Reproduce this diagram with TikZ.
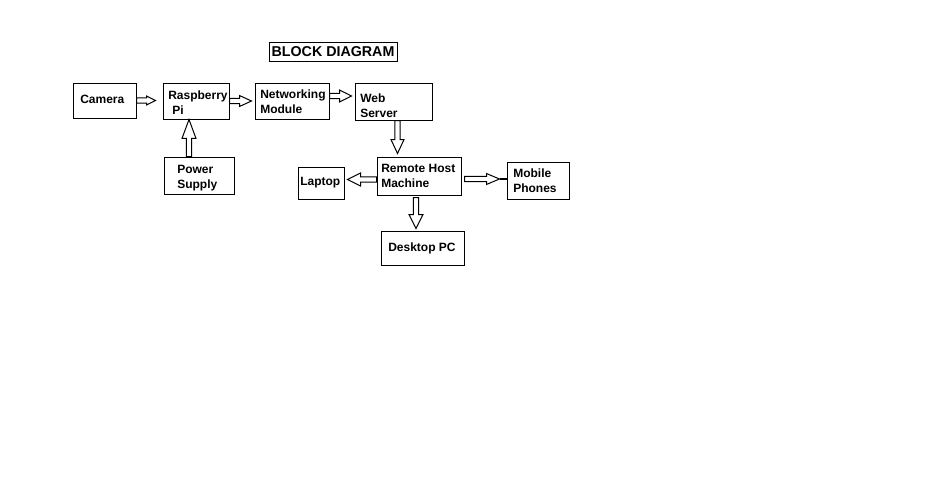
\documentclass[tikz,border=0pt]{standalone}
\usepackage{fontspec}
\setmainfont{Liberation Sans}
\usetikzlibrary{calc}

\tikzset{
  blk/.style 2 args={draw, line width=0.75pt, inner sep=0pt,
    minimum width=#1*0.75pt, minimum height=#2*0.75pt},
  txt/.style={anchor=west, inner sep=0pt, align=left,
    font=\bfseries\fontsize{9}{11.25}\selectfont},
  blockarrow/.style={draw, line width=0.75pt, fill=white}
}

% block arrow: head length, head half width, start, end
\newcommand{\blockarrow}[4]{%
  \coordinate (ba-s) at #3;
  \coordinate (ba-e) at #4;
  \coordinate (ba-h) at ($(ba-e)!#1!(ba-s)$);
  \draw[blockarrow] ($(ba-s)!1.9pt!90:(ba-e)$) -- ($(ba-h)!1.9pt!90:(ba-e)$)
    -- ($(ba-h)!#2!90:(ba-e)$) -- (ba-e) -- ($(ba-h)!#2!-90:(ba-e)$)
    -- ($(ba-h)!1.9pt!-90:(ba-e)$) -- ($(ba-s)!1.9pt!-90:(ba-e)$) -- cycle;}

\begin{document}
\begin{tikzpicture}[x=0.75pt, y=-0.75pt]
  \useasboundingbox[fill=white] (0,0) rectangle (935,482);

  % --- Title ---
  \node[blk={128}{19},
    font=\bfseries\fontsize{10.7}{12}\selectfont] (title) at (333,51.5) {BLOCK DIAGRAM};

  % --- Top row ---
  \node[blk={63}{35}] (camera) at (104.5,100.5) {};
  \node[txt] (camera-t) at (80,99) {Camera};
  \node[blk={66}{36}] (rpi) at (196,101) {};
  \node[txt] (rpi-t) at (168,103) {Raspberry\\\hspace*{3pt}Pi};
  \node[blk={74}{36}] (netmod) at (292,101) {};
  \node[txt] (netmod-t) at (260,102) {Networking\\Module};
  \node[blk={77}{37}] (websrv) at (393.5,101.5) {};
  \node[txt] (websrv-t) at (360,106) {Web\\Server};

  % --- Power supply ---
  \node[blk={70}{37}] (power) at (199,175.5) {};
  \node[txt] (power-t) at (177,178) {Power\\Supply};

  % --- Remote host and clients ---
  \node[blk={84}{38}] (remote) at (419,176) {};
  \node[txt] (remote-t) at (381,175.5) {Remote Host\\Machine};
  \node[blk={46}{32}] (laptop) at (321,183) {};
  \node[txt] (laptop-t) at (300,183) {Laptop};
  \node[blk={62}{37}] (mobile) at (538,180.5) {};
  \node[txt] (mobile-t) at (513,180.5) {Mobile\\Phones};
  \node[blk={83}{34}] (desktop) at (422.5,248) {};
  \node[txt] (desktop-t) at (388,248) {Desktop PC};

  % --- Arrows ---
  \blockarrow{6.75pt}{3.4pt}{(camera.east)}{($(rpi.west)+(-7,-0.5)$)}
  \blockarrow{9pt}{4.1pt}{(rpi.east)}{($(netmod.west)+(-3,0)$)}
  \blockarrow{9pt}{4.5pt}{($(netmod.east)+(0,-5)$)}{($(websrv.west)+(-3,-5.5)$)}
  \blockarrow{14.2pt}{5.25pt}{($(power.north)+(-10,0)$)}{($(rpi.south)+(-7,0)$)}
  \blockarrow{10.5pt}{4.9pt}{($(websrv.south)+(4,0)$)}{($(remote.north)+(-21.5,-3)$)}
  \blockarrow{9.75pt}{4.9pt}{($(remote.west)+(0,3.5)$)}{($(laptop.east)+(3,-3.5)$)}
  \blockarrow{9.75pt}{4.1pt}{($(remote.east)+(3,3)$)}{($(mobile.west)+(-7,-1.5)$)}
  \draw[line width=1.5pt] (ba-e) -- ($(mobile.west)+(0,-1.5)$);
  \blockarrow{10.5pt}{5.25pt}{($(remote.south)+(-3,2)$)}{($(desktop.north)+(-6.5,-2)$)}
\end{tikzpicture}
\end{document}
